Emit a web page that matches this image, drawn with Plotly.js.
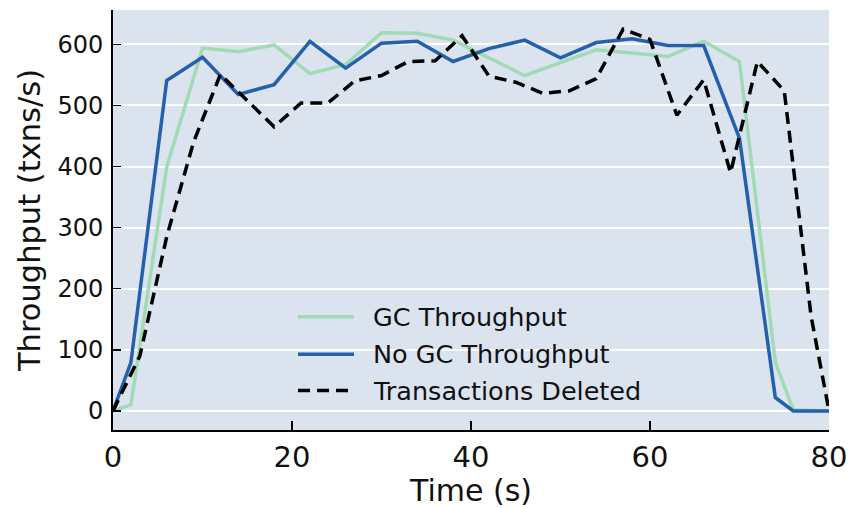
<!DOCTYPE html>
<html>
<head>
<meta charset="utf-8">
<script src="https://cdn.plot.ly/plotly-3.0.1.min.js"></script>
<style>
  html, body { margin: 0; padding: 0; background: #ffffff; }
  #chart { width: 852px; height: 508px; }
</style>
</head>
<body>
<div id="chart"></div>
<script>
// Time samples (s) for the throughput series
const timeThroughput = [0, 2, 6, 10, 14, 18, 22, 26, 30, 34, 38, 42, 46, 50, 54, 58, 62, 66, 70, 74, 76, 80];
// GC Throughput (txns/s)
const gcThroughput = [0, 10, 399, 594, 588, 599, 552, 567, 619, 618, 607, 578, 549, 570, 591, 586, 580, 605, 572, 80, 2, 0];
// No GC Throughput (txns/s)
const noGcThroughput = [0, 79, 541, 579, 518, 534, 605, 561, 602, 605, 572, 593, 607, 578, 603, 609, 598, 598, 446, 22, 0, 0];
// Time samples (s) for the deleted-transactions series
const timeDeleted = [0, 3, 6, 9, 12, 15, 18, 21, 24, 27, 30, 33, 36, 39, 42, 45, 48, 51, 54, 57, 60, 63, 66, 69, 72, 75, 78, 80];
// Transactions Deleted
const transactionsDeleted = [0, 90, 285, 440, 551, 508, 465, 504, 504, 540, 549, 572, 573, 614, 548, 538, 520, 524, 544, 625, 608, 484, 542, 390, 572, 524, 155, 0];

const seriesNames = ["GC Throughput", "No GC Throughput", "Transactions Deleted"];
const xTicks = [0, 20, 40, 60, 80];
const yTicks = [0, 100, 200, 300, 400, 500, 600];

const GREEN = "#a1dab4";
const BLUE = "#2560ab";
const FONT = "DejaVu Sans, sans-serif";
const DASH = "12px,7px";

const traces = [
  { x: timeThroughput, y: gcThroughput, name: seriesNames[0], mode: "lines",
    line: { color: GREEN, width: 3.5 } },
  { x: timeThroughput, y: noGcThroughput, name: seriesNames[1], mode: "lines",
    line: { color: BLUE, width: 3.5 } },
  { x: timeDeleted, y: transactionsDeleted, name: seriesNames[2], mode: "lines",
    line: { color: "#000000", width: 3.5, dash: DASH } }
];

// Custom legend (line samples + labels) in paper coordinates
const L = 113, R = 829, T = 10, B = 430;
const px = v => (v - L) / (R - L);
const py = v => (B - v) / (B - T);
const legendRows = [316.7, 354.3, 390.5];
const legendStyles = [
  { color: GREEN, width: 3.5 },
  { color: BLUE, width: 3.5 },
  { color: "#000000", width: 3.5, dash: DASH }
];
const shapes = legendRows.map((yy, i) => ({
  type: "line", xref: "paper", yref: "paper",
  x0: px(298), x1: px(354), y0: py(yy), y1: py(yy),
  line: legendStyles[i]
}));
const annotations = legendRows.map((yy, i) => ({
  xref: "paper", yref: "paper", x: px(371), y: py(yy),
  xanchor: "left", yanchor: "middle", showarrow: false,
  text: seriesNames[i], font: { family: FONT, size: 25.5, color: "#111111" }
}));

const layout = {
  width: 852, height: 508,
  margin: { l: L, r: 852 - R, t: T, b: 508 - B, pad: 0 },
  paper_bgcolor: "#ffffff",
  plot_bgcolor: "#dbe3ef",
  showlegend: false,
  font: { family: FONT, color: "#111111" },
  xaxis: {
    range: [0, 80],
    tickvals: xTicks,
    ticktext: xTicks.map(String),
    ticks: "inside", ticklen: 9, tickwidth: 1.5, tickcolor: "#000000",
    tickfont: { family: FONT, size: 29, color: "#111111" },
    showline: true, linecolor: "#000000", linewidth: 2,
    showgrid: false, zeroline: false,
    title: { text: "Time (s)", font: { family: FONT, size: 30, color: "#111111" }, standoff: 8 }
  },
  yaxis: {
    range: [-31.25, 656.25],
    tickvals: yTicks,
    ticktext: yTicks.map(String),
    ticks: "inside", ticklen: 8, tickwidth: 1.5, tickcolor: "#000000",
    ticklabelstandoff: 3,
    tickfont: { family: FONT, size: 24, color: "#111111" },
    showline: true, linecolor: "#000000", linewidth: 2,
    showgrid: true, gridcolor: "#ffffff", gridwidth: 2,
    zeroline: false,
    title: { text: "Throughput (txns/s)", font: { family: FONT, size: 30.5, color: "#111111" }, standoff: 8 }
  },
  shapes: shapes,
  annotations: annotations
};

Plotly.newPlot("chart", traces, layout, { displayModeBar: false, staticPlot: true });
</script>
</body>
</html>
